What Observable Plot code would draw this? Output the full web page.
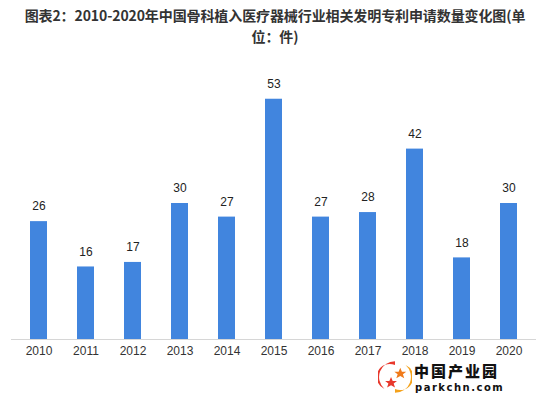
<!DOCTYPE html>
<html>
<head>
<meta charset="utf-8">
<script src="https://cdn.jsdelivr.net/npm/d3@7"></script>
<script src="https://cdn.jsdelivr.net/npm/@observablehq/plot@0.6"></script>
<style>
  html, body { margin: 0; padding: 0; background: #fff; }
  #wrap { position: relative; width: 550px; height: 395px; overflow: hidden; }
  #title { position: absolute; left: 0; top: 5px; width: 550px; text-align: center;
    font-family: "Noto Sans CJK SC", sans-serif; font-weight: bold; font-size: 14px;
    line-height: 20.5px; color: #333; letter-spacing: -0.1px; }
  #chart { position: absolute; left: 0; top: 45px; }
  #brand { position: absolute; left: 378px; top: 360px; width: 172px; height: 35px; }
  #brand .cn { position: absolute; left: 36px; top: 0px; font-family: "Noto Sans CJK SC", sans-serif;
    font-weight: 900; font-size: 15px; line-height: 22px; color: #111; letter-spacing: 2px; }
  #brand .en { position: absolute; left: 37px; top: 22px; font-family: "DejaVu Sans", sans-serif;
    font-weight: bold; font-size: 10px; line-height: 12px; color: #111; letter-spacing: 1.5px; }
</style>
</head>
<body>
<div id="wrap">
  <div id="title">图表2：2010-2020年中国骨科植入医疗器械行业相关发明专利申请数量变化图(单<br>位：件)</div>
  <div id="chart"></div>
  <div id="brand">
    <svg width="34" height="34" style="position:absolute;left:0;top:0">
      <g transform="translate(17,17) scale(0.66) translate(-30,-30)">
        <circle cx="30" cy="30" r="24" fill="#fff"/>
        <path d="M30 6 A24 24 0 0 0 14 48 A18 18 0 0 1 30 12 Z" fill="#e8382c"/>
        <path d="M30 54 A24 24 0 0 0 46 12 A18 18 0 0 1 30 48 Z" fill="#f4a21c"/>
        <polygon points="38,16 40.5,22 47,22 42,26 44,32 38,28.5 32,32 34,26 29,22 35.5,22" fill="#f07a1a"/>
        <polygon points="24,30 26.5,36 33,36 28,40 30,46 24,42.5 18,46 20,40 15,36 21.5,36" fill="#e8382c"/>
      </g>
    </svg>
    <div class="cn">中国产业园</div>
    <div class="en">parkchn.com</div>
  </div>
</div>
<script>
const years = ["2010","2011","2012","2013","2014","2015","2016","2017","2018","2019","2020"];
const counts = [26, 16, 17, 30, 27, 53, 27, 28, 42, 18, 30];

const data = years.map((y, i) => ({year: y, value: counts[i]}));

const chart = Plot.plot({
  width: 550,
  height: 350,
  marginTop: 22,
  marginBottom: 56,
  marginLeft: 11,
  marginRight: 14,
  style: {fontFamily: "'Liberation Sans', Arial, sans-serif", fontSize: "12px", background: "transparent"},
  x: {domain: years, padding: 0, label: null, tickSize: 0, tickPadding: 7},
  y: {domain: [0, 60], axis: null},
  marks: [
    Plot.barY(data, {x: "year", y: "value", fill: "#4185de", insetLeft: 15, insetRight: 15}),
    Plot.ruleY([0], {stroke: "#d6d6d6", strokeWidth: 1}),
    Plot.text(data, {x: "year", y: "value", text: d => String(d.value), dy: -15, fill: "#222", fontSize: 12}),
    Plot.axisX({tickSize: 0, tickPadding: 7, fill: "#333", fontSize: 12, label: null})
  ]
});
document.getElementById("chart").appendChild(chart);
</script>
</body>
</html>
